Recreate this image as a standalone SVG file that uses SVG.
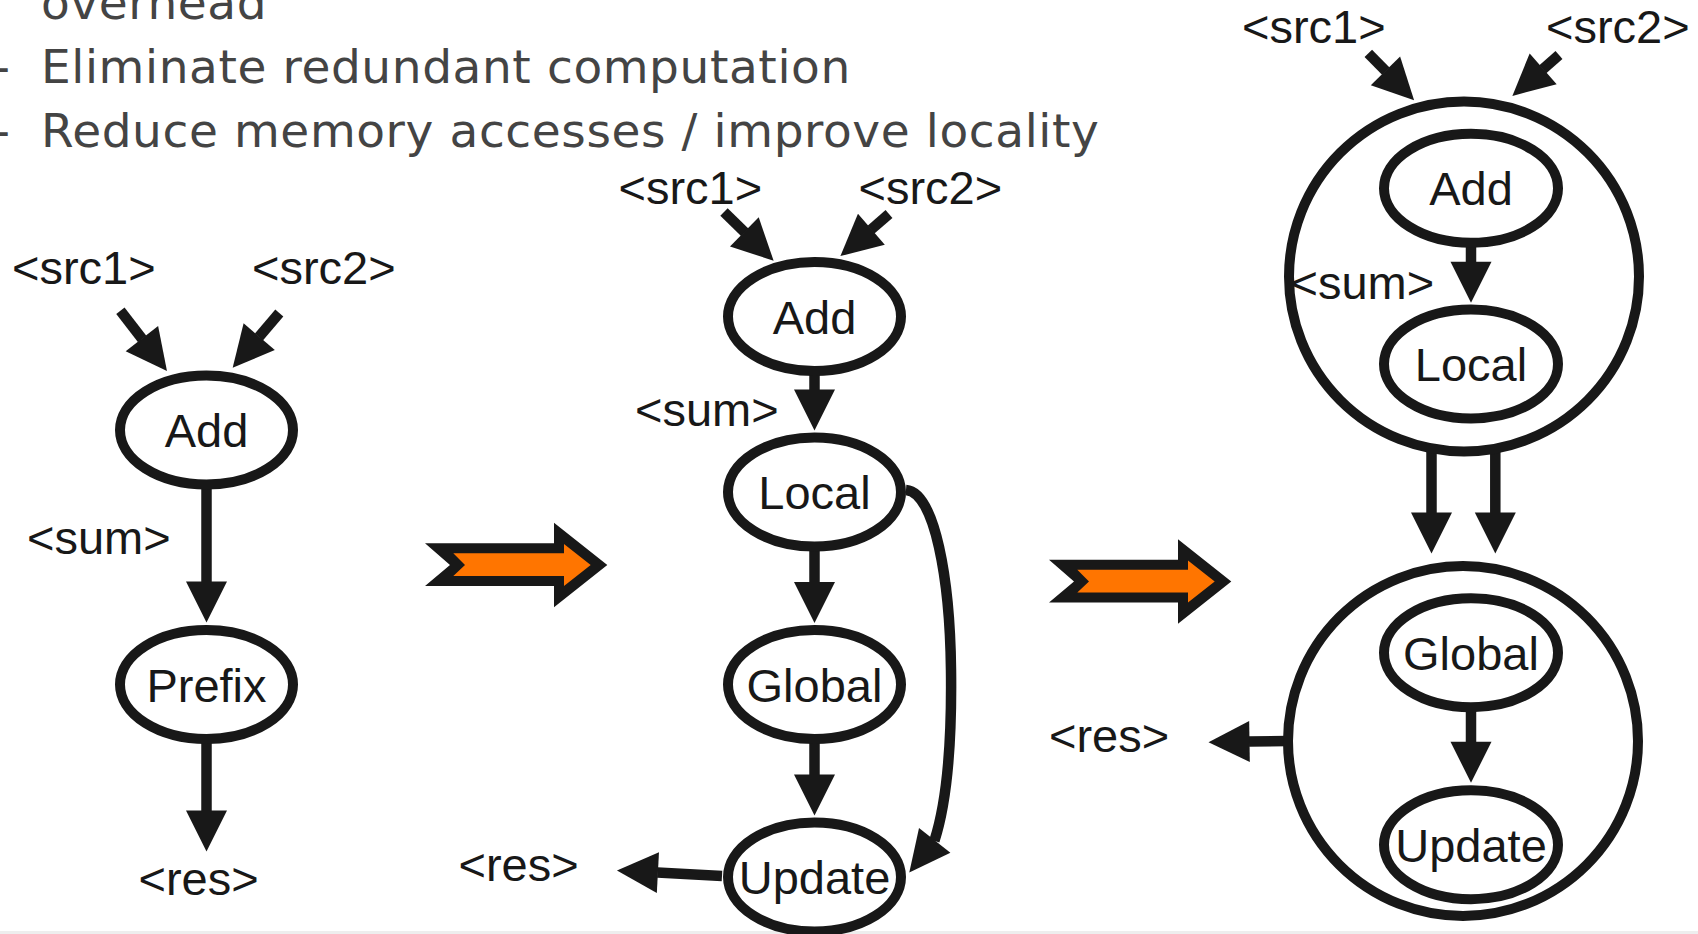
<svg xmlns="http://www.w3.org/2000/svg" xmlns:xlink="http://www.w3.org/1999/xlink" width="1698" height="934" viewBox="0 0 1698 934">
  <style>
    .hdr { font-family: "DejaVu Sans", Verdana, sans-serif; font-size: 47px; letter-spacing: 0.6px; fill: #444444; }
    .lbl { font-family: "Liberation Sans", Arial, sans-serif; font-size: 47px; fill: #181818; }
    .mid { text-anchor: middle; }
    .op { fill: #ffffff; stroke: #181818; stroke-width: 10; }
    .fuse { fill: none; stroke: #181818; stroke-width: 10; }
    .edge { fill: none; stroke: #181818; stroke-width: 10.5; marker-end: url(#head); }
    .edge.bend { marker-end: url(#headBend); }
    .tx-out { fill: #181818; }
    .tx-in { fill: #ff7500; }
  </style>
  <defs>
    <marker id="head" markerUnits="userSpaceOnUse" viewBox="0 -22 44 44" markerWidth="44" markerHeight="44" refX="0.5" refY="0" orient="auto" overflow="visible">
      <path d="M0,-20.5 L41,0 L0,20.5 Z" fill="#181818"/>
    </marker>
    <marker id="headBend" markerUnits="userSpaceOnUse" viewBox="0 -22 44 44" markerWidth="44" markerHeight="44" refX="0.5" refY="0" orient="128.3" overflow="visible">
      <path d="M0,-20 L41,0 L0,20 Z" fill="#181818"/>
    </marker>
    <!-- block arrow marking a transformation step -->
    <g id="stepArrow">
      <path class="tx-out" d="M425,543.3 L554,543.3 L554,522.7 L607.3,565 L554,607.3 L554,586 L425,586 L450,565 Z"/>
      <path class="tx-in" d="M453.3,553.3 L564,553.3 L564,544 L590.7,565 L564,586 L564,576 L453.3,576 L465,565 Z"/>
    </g>
  </defs>

  <rect x="0" y="0" width="1698" height="934" fill="#ffffff"/>
  <rect x="0" y="931" width="1698" height="3" fill="#eeeeee"/>

  <!-- bullet text -->
  <g id="notes">
    <text class="hdr" x="41" y="19">overhead</text>
    <text class="hdr" x="-7" y="83">-</text>
    <text class="hdr" x="41" y="83">Eliminate redundant computation</text>
    <text class="hdr" x="-7" y="147">-</text>
    <text class="hdr" x="41" y="147">Reduce memory accesses / improve locality</text>
  </g>

  <!-- step arrows -->
  <g id="step1"><use xlink:href="#stepArrow"/></g>
  <g id="step2"><use xlink:href="#stepArrow" transform="translate(624,16.5)"/></g>

  <g id="connectors">
    <!-- original graph -->
    <line class="edge" x1="120.4" y1="310.8" x2="142.2" y2="339"/>
    <line class="edge" x1="279.3" y1="313" x2="258.9" y2="337"/>
    <line class="edge" x1="206.5" y1="485" x2="206.5" y2="582"/>
    <line class="edge" x1="206.5" y1="740" x2="206.5" y2="811"/>
    <!-- split graph -->
    <line class="edge" x1="724" y1="212" x2="744.7" y2="232.3"/>
    <line class="edge" x1="889" y1="214" x2="871" y2="229.6"/>
    <line class="edge" x1="814.5" y1="372" x2="814.5" y2="390"/>
    <line class="edge" x1="814.5" y1="548" x2="814.5" y2="582.5"/>
    <line class="edge" x1="814.5" y1="740" x2="814.5" y2="775"/>
    <line class="edge" x1="722" y1="876" x2="657.4" y2="872.6"/>
    <path class="edge bend" d="M906,490 C935,492 950,580 951,670 C952,750 946,805 934.4,840.8"/>
    <!-- fused graph -->
    <line class="edge" x1="1368.3" y1="53.3" x2="1385.8" y2="71.2"/>
    <line class="edge" x1="1559" y1="55" x2="1542.8" y2="69.2"/>
    <line class="edge" x1="1471" y1="244" x2="1471" y2="262.3"/>
    <line class="edge" x1="1431.5" y1="452" x2="1431.5" y2="513"/>
    <line class="edge" x1="1495.3" y1="452" x2="1495.3" y2="513"/>
    <line class="edge" x1="1471" y1="708" x2="1471" y2="742.3"/>
    <line class="edge" x1="1288" y1="741" x2="1249" y2="741.6"/>
  </g>

  <!-- original graph -->
  <g id="g1-add"><ellipse class="op" cx="206.5" cy="430" rx="86.5" ry="54.5"/><text class="lbl mid" x="206.5" y="447">Add</text></g>
  <g id="g1-prefix"><ellipse class="op" cx="206.5" cy="684.5" rx="86.5" ry="54.5"/><text class="lbl mid" x="206.5" y="701.5">Prefix</text></g>

  <!-- split graph -->
  <g id="g2-add"><ellipse class="op" cx="814.5" cy="316.5" rx="86.5" ry="54.5"/><text class="lbl mid" x="814.5" y="333.5">Add</text></g>
  <g id="g2-local"><ellipse class="op" cx="814.5" cy="492" rx="86.5" ry="54.5"/><text class="lbl mid" x="814.5" y="509">Local</text></g>
  <g id="g2-global"><ellipse class="op" cx="814.5" cy="684.5" rx="86.5" ry="54.5"/><text class="lbl mid" x="814.5" y="701.5">Global</text></g>
  <g id="g2-update"><ellipse class="op" cx="814.5" cy="877" rx="86.5" ry="54.5"/><text class="lbl mid" x="814.5" y="894">Update</text></g>

  <!-- fused graph -->
  <g id="g3-kernel1">
    <circle class="fuse" cx="1464" cy="276.5" r="175"/>
    <g id="g3-add"><ellipse class="op" cx="1471" cy="188.3" rx="87" ry="54.5"/><text class="lbl mid" x="1471" y="205">Add</text></g>
    <g id="g3-local"><ellipse class="op" cx="1471" cy="364" rx="87" ry="54.5"/><text class="lbl mid" x="1471" y="381">Local</text></g>
  </g>
  <g id="g3-kernel2">
    <circle class="fuse" cx="1463" cy="741" r="175"/>
    <g id="g3-global"><ellipse class="op" cx="1471" cy="652.7" rx="87" ry="54.5"/><text class="lbl mid" x="1471" y="669.7">Global</text></g>
    <g id="g3-update"><ellipse class="op" cx="1471" cy="844.7" rx="87" ry="54.5"/><text class="lbl mid" x="1471" y="861.7">Update</text></g>
  </g>

  <!-- edge labels -->
  <g id="labels">
    <text class="lbl" x="12" y="284">&lt;src1&gt;</text>
    <text class="lbl" x="252" y="284">&lt;src2&gt;</text>
    <text class="lbl" x="27" y="553.5">&lt;sum&gt;</text>
    <text class="lbl" x="138.5" y="895">&lt;res&gt;</text>

    <text class="lbl" x="618.5" y="204">&lt;src1&gt;</text>
    <text class="lbl" x="858.5" y="204">&lt;src2&gt;</text>
    <text class="lbl" x="635" y="426">&lt;sum&gt;</text>
    <text class="lbl" x="458.5" y="881">&lt;res&gt;</text>

    <text class="lbl" x="1242" y="43">&lt;src1&gt;</text>
    <text class="lbl" x="1546" y="43">&lt;src2&gt;</text>
    <text class="lbl" x="1290.5" y="299">&lt;sum&gt;</text>
    <text class="lbl" x="1049" y="752">&lt;res&gt;</text>
  </g>
</svg>
